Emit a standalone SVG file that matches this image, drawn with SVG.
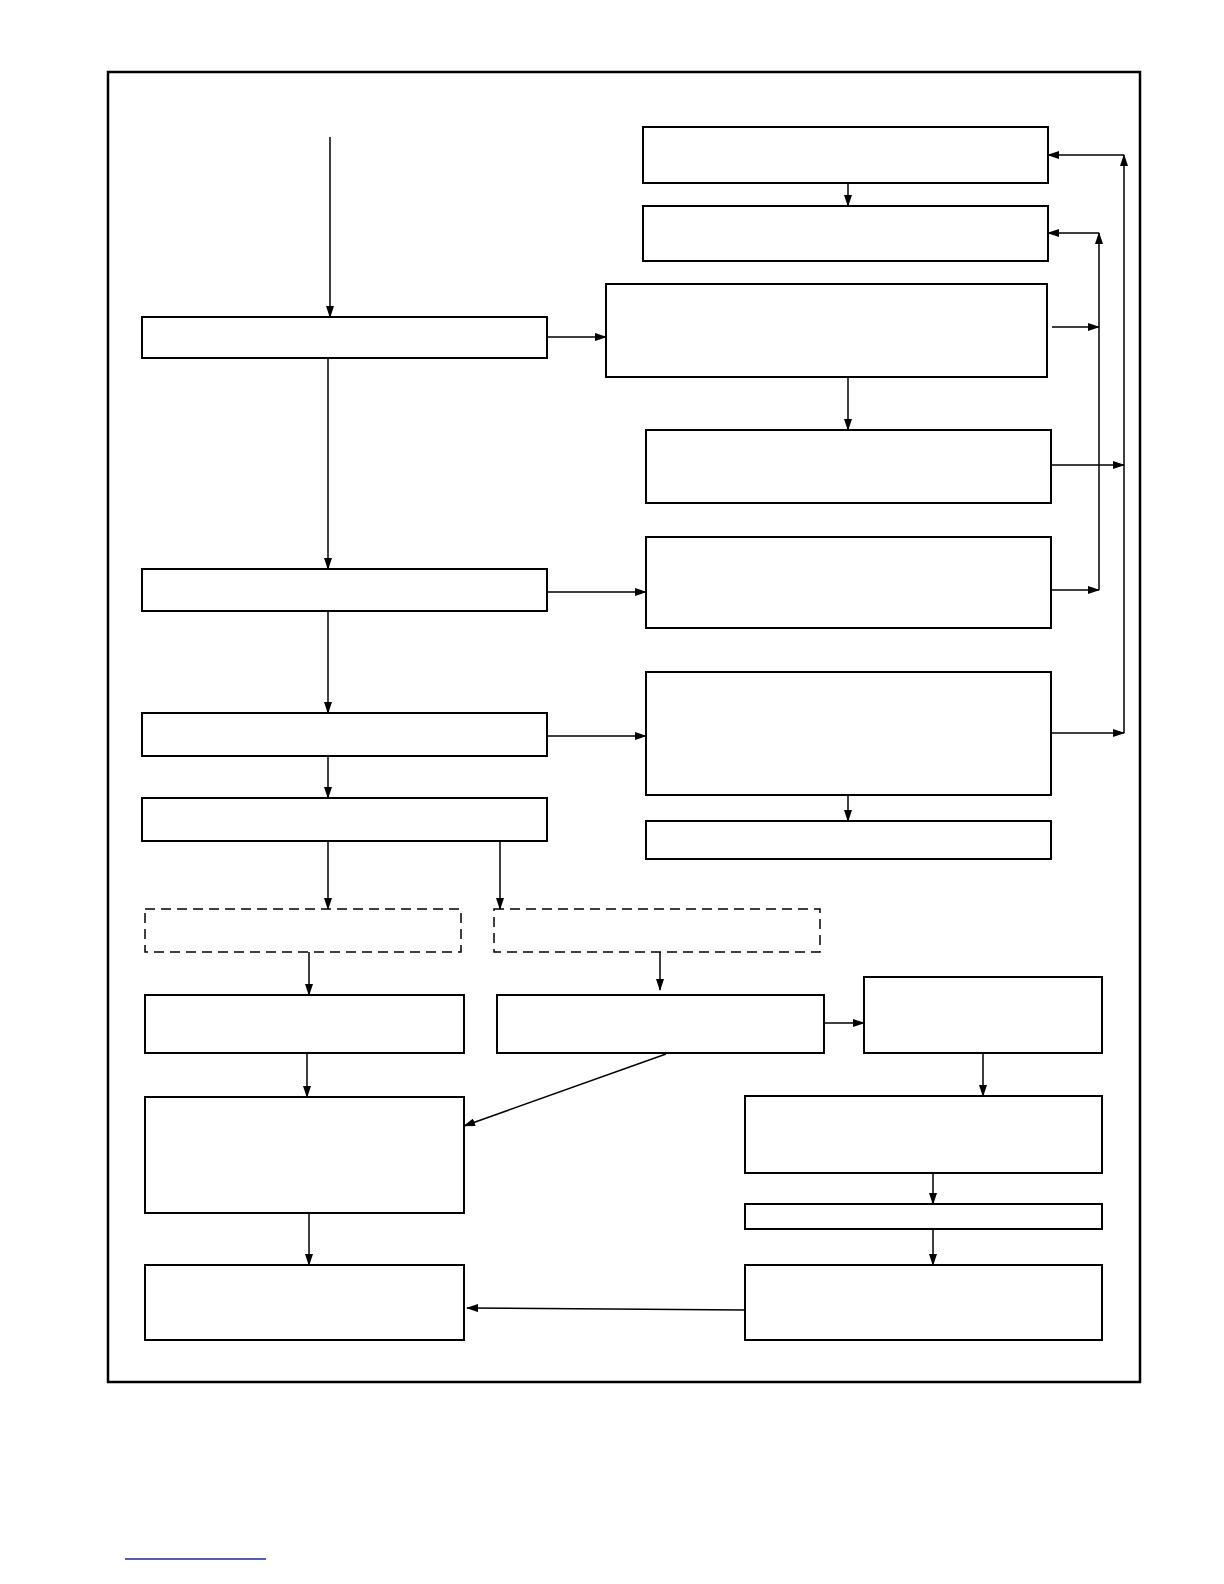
<svg xmlns="http://www.w3.org/2000/svg" width="1224" height="1584" viewBox="0 0 1224 1584">
<style>
.b{fill:#fff;stroke:#000;stroke-width:2}
.d{fill:#fff;stroke:#000;stroke-width:1.5;stroke-dasharray:10 6}
.c line{stroke:#000;stroke-width:1.5;marker-end:url(#a)}
.c line.n{marker-end:none}
</style>
<defs><marker id="a" markerWidth="12" markerHeight="8" refX="11" refY="4" orient="auto" markerUnits="userSpaceOnUse"><path d="M0,0 L12,4 L0,8 Z" fill="#000"/></marker></defs>
<rect width="1224" height="1584" fill="#fff"/>
<rect x="108" y="72" width="1032" height="1310" fill="none" stroke="#000" stroke-width="2.5"/>
<line x1="125" y1="1559" x2="266" y2="1559" stroke="#1a2a9a" stroke-width="1.5"/>
<g id="R1"><rect class="b" x="643" y="127" width="405" height="56"/></g>
<g id="R2"><rect class="b" x="643" y="206" width="405" height="55"/></g>
<g id="R3"><rect class="b" x="606" y="284" width="441" height="93"/></g>
<g id="R4"><rect class="b" x="646" y="430" width="405" height="73"/></g>
<g id="R5"><rect class="b" x="646" y="537" width="405" height="91"/></g>
<g id="R6"><rect class="b" x="646" y="672" width="405" height="123"/></g>
<g id="R7"><rect class="b" x="646" y="821" width="405" height="38"/></g>
<g id="L1"><rect class="b" x="142" y="317" width="405" height="41"/></g>
<g id="L2"><rect class="b" x="142" y="569" width="405" height="42"/></g>
<g id="L3"><rect class="b" x="142" y="713" width="405" height="43"/></g>
<g id="L4"><rect class="b" x="142" y="798" width="405" height="43"/></g>
<g id="D1"><rect class="d" x="145" y="909" width="316" height="43"/></g>
<g id="D2"><rect class="d" x="494" y="909" width="326" height="43"/></g>
<g id="B1"><rect class="b" x="145" y="995" width="319" height="58"/></g>
<g id="B2"><rect class="b" x="497" y="995" width="327" height="58"/></g>
<g id="B3"><rect class="b" x="864" y="977" width="238" height="76"/></g>
<g id="B4"><rect class="b" x="145" y="1097" width="319" height="116"/></g>
<g id="B5"><rect class="b" x="745" y="1096" width="357" height="77"/></g>
<g id="B6"><rect class="b" x="745" y="1204" width="357" height="25"/></g>
<g id="B7"><rect class="b" x="145" y="1265" width="319" height="75"/></g>
<g id="B8"><rect class="b" x="745" y="1265" width="357" height="75"/></g>
<g class="c" id="connectors">
<line x1="330" y1="137" x2="330" y2="317"/>
<line x1="328" y1="358" x2="328" y2="569"/>
<line x1="547" y1="337" x2="606" y2="337"/>
<line x1="848" y1="183" x2="848" y2="206"/>
<line x1="1124" y1="733" x2="1124" y2="155"/>
<line x1="1124" y1="155" x2="1048" y2="155"/>
<line x1="1099" y1="590" x2="1099" y2="233"/>
<line x1="1099" y1="233" x2="1048" y2="233"/>
<line x1="1052" y1="327" x2="1099" y2="327"/>
<line x1="848" y1="377" x2="848" y2="430"/>
<line x1="1052" y1="465" x2="1124" y2="465"/>
<line x1="1052" y1="590" x2="1099" y2="590"/>
<line x1="547" y1="592" x2="646" y2="592"/>
<line x1="328" y1="611" x2="328" y2="713"/>
<line x1="547" y1="736" x2="646" y2="736"/>
<line x1="1052" y1="733" x2="1124" y2="733"/>
<line x1="848" y1="795" x2="848" y2="821"/>
<line x1="328" y1="756" x2="328" y2="798"/>
<line x1="328" y1="841" x2="328" y2="909"/>
<line x1="500" y1="841" x2="500" y2="909"/>
<line x1="309" y1="952" x2="309" y2="995"/>
<line x1="660" y1="952" x2="660" y2="990"/>
<line x1="824" y1="1023" x2="864" y2="1023"/>
<line x1="307" y1="1053" x2="307" y2="1097"/>
<line x1="666" y1="1054" x2="464" y2="1126"/>
<line x1="983" y1="1053" x2="983" y2="1096"/>
<line x1="933" y1="1173" x2="933" y2="1204"/>
<line x1="933" y1="1229" x2="933" y2="1265"/>
<line x1="309" y1="1213" x2="309" y2="1265"/>
<line x1="745" y1="1310" x2="467" y2="1308"/>
</g>
</svg>
